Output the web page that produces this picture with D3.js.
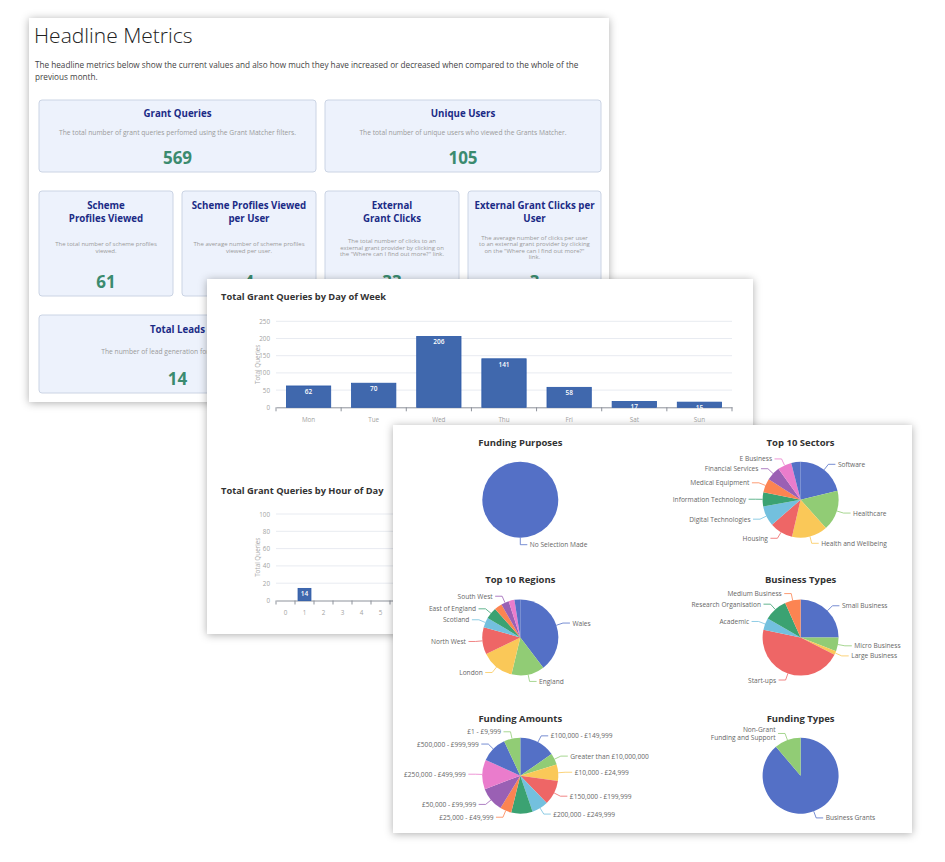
<!DOCTYPE html>
<html>
<head>
<meta charset="utf-8">
<script src="https://cdn.jsdelivr.net/npm/d3@7"></script>
<style>
  body { margin: 0; background: #fff; }
  svg { display: block; font-family: "Open Sans", sans-serif; }
</style>
</head>
<body>
<div class="box"></div>
<script>
// ---- données : indicateurs ----
const metricTitles = [
  ["Grant Queries"],
  ["Unique Users"],
  ["Scheme", "Profiles Viewed"],
  ["Scheme Profiles Viewed", "per User"],
  ["External", "Grant Clicks"],
  ["External Grant Clicks per", "User"],
  ["Total Leads"]
];
const metricDescs = [
  ["The total number of grant queries perfomed using the Grant Matcher filters."],
  ["The total number of unique users who viewed the Grants Matcher."],
  ["The total number of scheme profiles", "viewed."],
  ["The average number of scheme profiles", "viewed per user."],
  ["The total number of clicks to an", "external grant provider by clicking on", "the \"Where can I find out more?\" link."],
  ["The average number of clicks per user", "to an external grant provider by clicking", "on the \"Where can I find out more?\"", "link."],
  ["The number of lead generation forms submitted."]
];
const metricValues = ["569", "105", "61", "4", "33", "3", "14"];

// ---- données : barres ----
const days = ["Mon", "Tue", "Wed", "Thu", "Fri", "Sat", "Sun"];
const dayQueries = [62, 70, 206, 141, 58, 17, 15];
const dayTicks = [0, 50, 100, 150, 200, 250];

const hours = ["0","1","2","3","4","5","6","7","8","9","10","11","12","13","14","15","16","17","18","19","20","21","22","23"];
const hourQueries = [0, 14, 0, 0, 0, 0, 0, 8, 45, 88, 92, 70, 48, 55, 62, 45, 30, 10, 2, 0, 0, 0, 0, 0];
const hourTicks = [0, 20, 40, 60, 80, 100];

// ---- données : camemberts ----
const purposeNames = ["No Selection Made"];
const purposeValues = [569];

const sectorNames = ["Software", "Healthcare", "Health and Wellbeing", "Housing", "Digital Technologies",
  "Information Technology", "Medical Equipment", "Financial Services", "E Business", ""];
const sectorValues = [32, 26, 23, 15, 13, 9, 9, 9, 9, 6];

const regionNames = ["Wales", "England", "London", "North West", "Scotland", "East of England", "", "South West", "", ""];
const regionValues = [48, 17, 17, 14, 5, 6, 4, 4, 3, 3];

const businessNames = ["Small Business", "Micro Business", "Large Business", "Start-ups", "Academic",
  "Research Organisation", "Medium Business"];
const businessValues = [30, 7, 2, 55, 6, 12, 8];

const amountNames = ["£100,000 - £149,999", "Greater than £10,000,000", "£10,000 - £24,999", "£150,000 - £199,999",
  "£200,000 - £249,999", "", "£25,000 - £49,999", "£50,000 - £99,999", "£250,000 - £499,999",
  "£500,000 - £999,999", "£1 - £9,999"];
const amountValues = [22, 7, 10, 15, 10, 13, 7, 15, 18, 16, 10];

const typeNames = ["Business Grants", "Non-Grant\nFunding and Support"];
const typeValues = [71, 9];

// ---- svg ----
const svg = d3.select('.box')
              .append('svg')
              .attr('width', 945)
              .attr('height', 862);

svg.append('rect').attr('width', 945).attr('height', 862).attr('fill', '#fff');

const defs = svg.append('defs');
const filtre = defs.append('filter')
                   .attr('id', 'ombre')
                   .attr('x', '-10%').attr('y', '-10%')
                   .attr('width', '120%').attr('height', '120%');
filtre.append('feDropShadow')
      .attr('dx', 0).attr('dy', 1)
      .attr('stdDeviation', 4)
      .attr('flood-color', '#000')
      .attr('flood-opacity', 0.32);

// la carte 3 recouvre le bas droit de la carte 2
defs.append('clipPath').attr('id', 'visible2')
    .append('path')
    .attr('d', 'M207,279 H753 V425 H393 V634 H207 Z');

const carte = (x, y, w, h) => {
  svg.append('rect')
     .attr('x', x).attr('y', y)
     .attr('width', w).attr('height', h)
     .attr('fill', '#fff')
     .attr('filter', 'url(#ombre)');
  return svg.append('g');
};

// ================= carte 1 : indicateurs =================
const c1 = carte(29, 18, 580, 384);

c1.append('text')
  .attr('x', 34).attr('y', 43)
  .attr('font-size', 21)
  .attr('font-weight', 300)
  .attr('fill', '#222')
  .text('Headline Metrics');

const intro = ["The headline metrics below show the current values and also how much they have increased or decreased when compared to the whole of the",
               "previous month."];
c1.selectAll('text.intro')
  .data(intro)
  .enter().append('text')
  .attr('class', 'intro')
  .attr('x', 35)
  .attr('y', (d, i) => 64 + i * 12.7)
  .attr('dominant-baseline', 'central')
  .attr('font-size', 8.2)
  .attr('fill', '#444')
  .text(d => d);

// position des boîtes (ty, dy, ny : titre, description, nombre)
const boites = [
  {x: 39,  y: 100, w: 277, h: 72,  ty: 13, dy: 32.7, ny: 57},
  {x: 325, y: 100, w: 276, h: 72,  ty: 13, dy: 32.7, ny: 57},
  {x: 39,  y: 191, w: 134, h: 105, ty: 14, dy: 56.5, ny: 90},
  {x: 182, y: 191, w: 134, h: 105, ty: 14, dy: 56.5, ny: 90},
  {x: 325, y: 191, w: 134, h: 105, ty: 14, dy: 56.5, ny: 90},
  {x: 468, y: 191, w: 133, h: 105, ty: 14, dy: 56.5, ny: 90},
  {x: 39,  y: 315, w: 277, h: 78,  ty: 14, dy: 36.7, ny: 63.3}
];

boites.forEach((b, i) => {
  const g = c1.append('g').attr('transform', `translate(${b.x}, ${b.y})`);
  const cx = b.w / 2;
  g.append('rect')
   .attr('width', b.w).attr('height', b.h)
   .attr('rx', 3)
   .attr('fill', '#edf2fc')
   .attr('stroke', '#cbd4e4');

  g.selectAll('text.titre')
   .data(metricTitles[i])
   .enter().append('text')
   .attr('class', 'titre')
   .attr('x', cx)
   .attr('y', (d, j) => b.ty + j * 13.8)
   .attr('text-anchor', 'middle')
   .attr('dominant-baseline', 'central')
   .attr('font-size', 9.7)
   .attr('font-weight', 700)
   .attr('fill', '#1b2b86')
   .text(d => d);

  const n = metricDescs[i].length;
  g.selectAll('text.desc')
   .data(metricDescs[i])
   .enter().append('text')
   .attr('class', 'desc')
   .attr('x', cx)
   .attr('y', (d, j) => b.dy + (j - (n - 1) / 2) * 6.4)
   .attr('text-anchor', 'middle')
   .attr('dominant-baseline', 'central')
   .attr('font-size', n > 1 ? 6 : 6.7)
   .attr('fill', '#9a9a9a')
   .text(d => d);

  g.append('text')
   .attr('x', cx)
   .attr('y', b.ny)
   .attr('text-anchor', 'middle')
   .attr('dominant-baseline', 'central')
   .attr('font-size', 17)
   .attr('font-weight', 700)
   .attr('fill', '#3b8b6f')
   .text(metricValues[i]);
});

// ================= carte 2 : barres =================
svg.append('rect')
   .attr('x', 207).attr('y', 279)
   .attr('width', 546).attr('height', 355)
   .attr('fill', '#fff')
   .attr('filter', 'url(#ombre)');
const c2 = svg.append('g').attr('clip-path', 'url(#visible2)');

const graphBarres = (titre, titreY, cats, vals, ticks, y0, y1, largeur) => {
  c2.append('text')
    .attr('x', 221).attr('y', titreY)
    .attr('dominant-baseline', 'central')
    .attr('font-size', 9.3)
    .attr('font-weight', 700)
    .attr('fill', '#333')
    .text(titre);

  const x = d3.scaleBand().domain(cats).range([276, 732]).padding(0);
  const y = d3.scaleLinear().domain([0, d3.max(ticks)]).range([y0, y1]);

  // grille
  c2.append('g').selectAll('line')
    .data(ticks.slice(1))
    .enter().append('line')
    .attr('x1', 276).attr('x2', 732)
    .attr('y1', d => y(d)).attr('y2', d => y(d))
    .attr('stroke', '#e8ebf1');

  // axe y
  const axeY = c2.append('g')
                 .attr('transform', 'translate(270, 0)')
                 .call(d3.axisLeft(y).tickValues(ticks).tickSize(0).tickPadding(0));
  axeY.select('.domain').remove();
  axeY.selectAll('text').attr('font-size', 6.3).attr('fill', '#a3a3a3').attr('font-family', 'Open Sans');

  c2.append('text')
    .attr('transform', `translate(257, ${(y0 + y1) / 2}) rotate(-90)`)
    .attr('text-anchor', 'middle')
    .attr('dominant-baseline', 'central')
    .attr('font-size', 6.3)
    .attr('fill', '#a8a8a8')
    .text('Total Queries');

  // axe x (seulement la partie visible)
  const visibles = cats.filter(c => x(c) + x.bandwidth() / 2 < (y0 > 425 ? 393 : 753));
  const axeX = c2.append('g')
                 .attr('transform', `translate(0, ${y0})`)
                 .call(d3.axisBottom(x).tickValues(visibles).tickSize(0).tickPadding(10));
  axeX.select('.domain').attr('stroke', '#8d929b');
  axeX.selectAll('text').attr('font-size', 6.3).attr('fill', '#a3a3a3').attr('font-family', 'Open Sans');
  axeX.selectAll('line.bord')
      .data(cats.map(d => x(d)).concat([x.range()[1]]))
      .enter().append('line')
      .attr('class', 'bord')
      .attr('x1', d => d).attr('x2', d => d)
      .attr('y1', 0).attr('y2', 4)
      .attr('stroke', '#8d929b');

  // barres
  const bw = x.bandwidth() * largeur;
  const barres = c2.append('g').selectAll('g')
                   .data(cats.map((c, i) => ({c: c, v: vals[i]})).filter(d => d.v > 0))
                   .enter().append('g');
  barres.append('rect')
        .attr('x', d => x(d.c) + (x.bandwidth() - bw) / 2)
        .attr('y', d => y(d.v))
        .attr('width', bw)
        .attr('height', d => y0 - y(d.v))
        .attr('fill', '#4068ad')
        .attr('stroke', '#2957a6')
        .attr('stroke-width', 0.8);
  barres.filter(d => visibles.includes(d.c))
        .append('text')
        .attr('x', d => x(d.c) + x.bandwidth() / 2)
        .attr('y', d => y(d.v) + 5.5)
        .attr('text-anchor', 'middle')
        .attr('dominant-baseline', 'central')
        .attr('font-size', 6.5)
        .attr('font-weight', 600)
        .attr('fill', '#fff')
        .text(d => d.v);
};

graphBarres('Total Grant Queries by Day of Week', 296, days, dayQueries, dayTicks, 407.3, 321.3, 0.68);
graphBarres('Total Grant Queries by Hour of Day', 490.5, hours, hourQueries, hourTicks, 600.5, 514, 0.68);

// ================= carte 3 : camemberts =================
const c3 = carte(393, 425, 519, 408);

const couleurs = ['#5470c6', '#91cc75', '#fac858', '#ee6666', '#73c0de', '#3ba272', '#fc8452', '#9a60b4', '#ea7ccc'];
const rayon = 38;
const arcPath = d3.arc().innerRadius(0).outerRadius(rayon);
const pie = d3.pie().sort(null).value(d => d);

const camembert = (cx, cy, titre, noms, valeurs) => {
  const g = c3.append('g').attr('transform', `translate(${cx}, ${cy})`);

  g.append('text')
   .attr('y', -57.7)
   .attr('text-anchor', 'middle')
   .attr('dominant-baseline', 'central')
   .attr('font-size', 9.5)
   .attr('font-weight', 700)
   .attr('fill', '#333')
   .text(titre);

  const parts = pie(valeurs);

  g.selectAll('path')
   .data(parts)
   .enter().append('path')
   .attr('d', arcPath)
   .attr('fill', (d, i) => couleurs[i % couleurs.length]);

  // étiquettes avec lignes de rappel
  parts.forEach((d, i) => {
    if (!noms[i]) return;
    const a = (d.startAngle + d.endAngle) / 2;
    const s = Math.sin(a), c = -Math.cos(a);
    const droite = s >= -1e-9;
    const p1 = [rayon * s, rayon * c];
    const p2 = [(rayon + 7) * s, (rayon + 7) * c];
    const p3 = [p2[0] + (droite ? 7 : -7), p2[1]];
    g.append('polyline')
     .attr('points', [p1, p2, p3].map(p => p.join(',')).join(' '))
     .attr('fill', 'none')
     .attr('stroke', couleurs[i % couleurs.length])
     .attr('stroke-width', 0.8);

    const lignes = noms[i].split('\n');
    const tx = p3[0] + (droite ? 2.5 : -2.5);
    const t = g.append('text')
               .attr('text-anchor', droite ? 'start' : 'end')
               .attr('font-size', 6.6)
               .attr('fill', '#666');
    lignes.forEach((l, j) => {
      t.append('tspan')
       .attr('x', tx)
       .attr('y', p3[1] + (j - (lignes.length - 1) / 2) * 7.2)
       .attr('dominant-baseline', 'central')
       .text(l);
    });
  });
};

camembert(520.3, 499.7, 'Funding Purposes', purposeNames, purposeValues);
camembert(800.6, 499.7, 'Top 10 Sectors', sectorNames, sectorValues);
camembert(520.3, 637.4, 'Top 10 Regions', regionNames, regionValues);
camembert(800.6, 637.6, 'Business Types', businessNames, businessValues);
camembert(520.3, 775.7, 'Funding Amounts', amountNames, amountValues);
camembert(800.6, 775.7, 'Funding Types', typeNames, typeValues);
</script>
</body>
</html>
